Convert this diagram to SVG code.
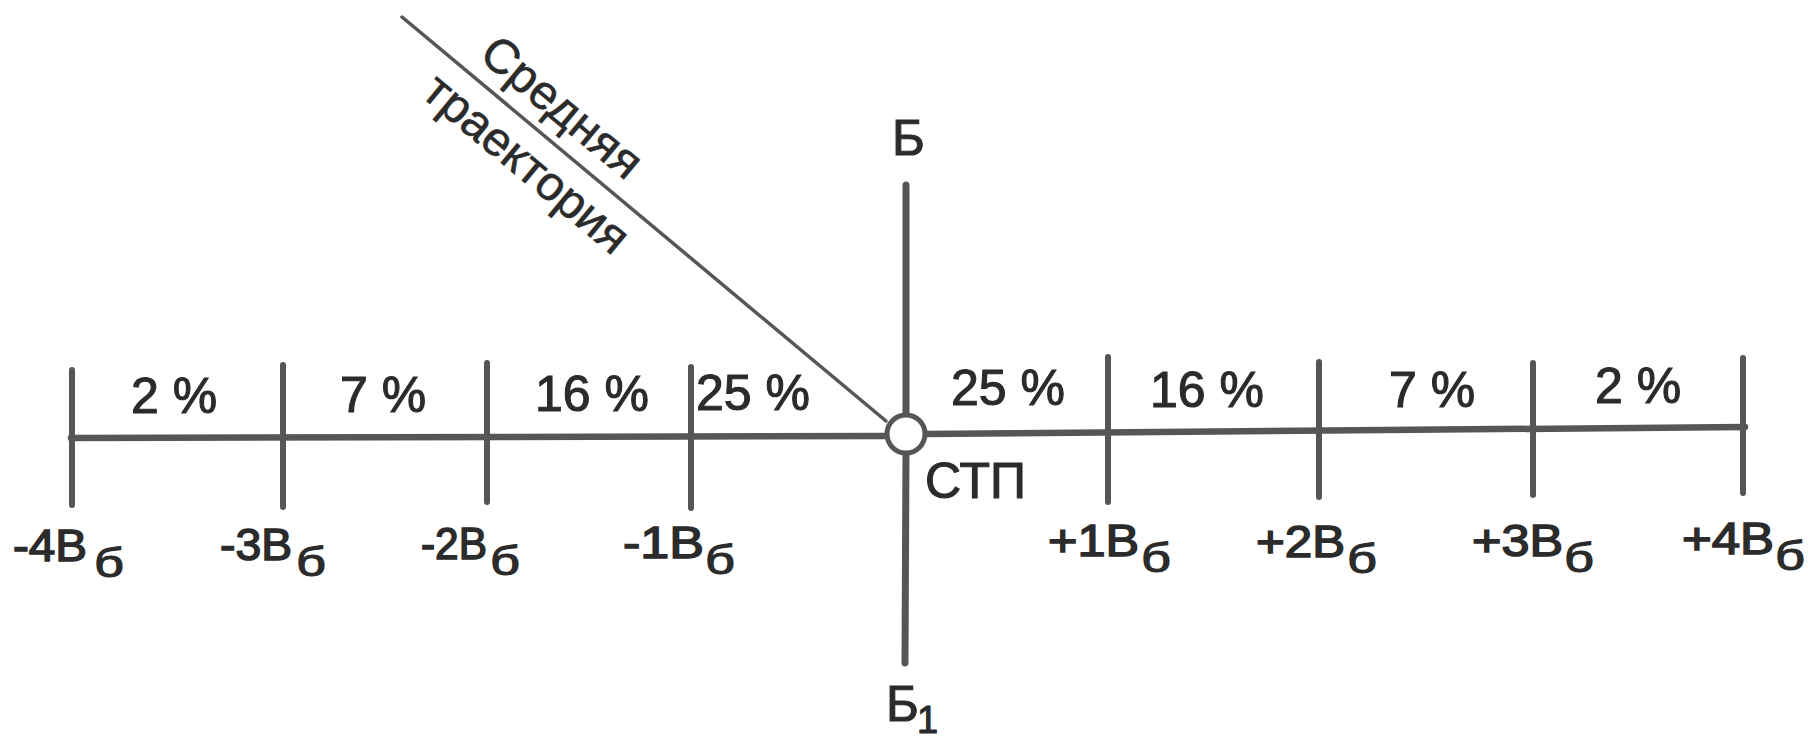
<svg xmlns="http://www.w3.org/2000/svg" width="1808" height="739" viewBox="0 0 1808 739">
<style>
.ln{stroke:#565656;stroke-linecap:round;fill:none}
.axis{stroke-width:6.5}
.tick{stroke-width:6}
.vert{stroke-width:7}
.diag{stroke-width:3.5}
.t{font-family:"Liberation Sans",Arial,sans-serif;fill:#2b2b2b;stroke:#2b2b2b;stroke-width:1.1}
.thin{stroke-width:0.6}
.pct{font-size:50px}
.lbl{font-size:44px;stroke-width:1.5}
.sub{font-size:40px}
.big{font-size:50px}
.dt{font-size:48px}
.one{font-size:38px}
</style>
<rect width="1808" height="739" fill="#ffffff"/>
<g id="connectors">
<line class="ln diag" x1="402" y1="17" x2="886" y2="421"/>
<line class="ln axis" x1="71" y1="438" x2="888" y2="436"/>
<line class="ln axis" x1="924" y1="434" x2="1745" y2="427"/>
<line class="ln vert" x1="906" y1="185" x2="906" y2="420"/>
<line class="ln vert" x1="906" y1="450" x2="905" y2="663"/>
</g>
<g id="ticks">
<line class="ln tick" x1="72" y1="370" x2="72" y2="505"/>
<line class="ln tick" x1="283" y1="365" x2="283" y2="507"/>
<line class="ln tick" x1="487" y1="363" x2="487" y2="502"/>
<line class="ln tick" x1="691" y1="367" x2="691" y2="508"/>
<line class="ln tick" x1="1108" y1="357" x2="1108" y2="502"/>
<line class="ln tick" x1="1319" y1="362" x2="1319" y2="497"/>
<line class="ln tick" x1="1533" y1="363" x2="1533" y2="495"/>
<line class="ln tick" x1="1743" y1="358" x2="1743" y2="493"/>
</g>
<g id="stp">
<circle cx="906" cy="434" r="19" fill="#ffffff" stroke="#565656" stroke-width="5"/>
<text class="t big" x="925" y="498">СТП</text>
</g>
<g id="b-top"><text class="t big" x="892" y="155">Б</text></g>
<g id="b-bottom"><text class="t big" x="886" y="721">Б</text><text class="t one" x="917" y="733">1</text></g>
<g id="trajectory">
<g transform="translate(402,17) rotate(39.75)">
<text class="t dt thin" x="84" y="-17">Средняя</text>
<text class="t dt thin" x="64" y="49">траектория</text>
</g>
</g>
<g id="percents">
<text class="t pct" x="131" y="413">2 %</text>
<text class="t pct" x="340" y="412">7 %</text>
<text class="t pct" x="535" y="411">16 %</text>
<text class="t pct" x="696" y="410">25 %</text>
<text class="t pct" x="951" y="405">25 %</text>
<text class="t pct" x="1150" y="407">16 %</text>
<text class="t pct" x="1389" y="407">7 %</text>
<text class="t pct" x="1595" y="403">2 %</text>
</g>
<g id="labels">
<g id="m4"><text class="t lbl" x="13" y="561" textLength="74" lengthAdjust="spacingAndGlyphs">-4В</text><text class="t sub" x="94" y="577" textLength="30" lengthAdjust="spacingAndGlyphs">б</text></g>
<g id="m3"><text class="t lbl" x="220" y="560" textLength="72" lengthAdjust="spacingAndGlyphs">-3В</text><text class="t sub" x="296" y="576" textLength="30" lengthAdjust="spacingAndGlyphs">б</text></g>
<g id="m2"><text class="t lbl" x="421" y="559" textLength="66" lengthAdjust="spacingAndGlyphs">-2В</text><text class="t sub" x="490" y="575" textLength="30" lengthAdjust="spacingAndGlyphs">б</text></g>
<g id="m1"><text class="t lbl" x="623" y="558" textLength="81" lengthAdjust="spacingAndGlyphs">-1В</text><text class="t sub" x="705" y="574" textLength="30" lengthAdjust="spacingAndGlyphs">б</text></g>
<g id="p1"><text class="t lbl" x="1048" y="556" textLength="91" lengthAdjust="spacingAndGlyphs">+1В</text><text class="t sub" x="1141" y="572" textLength="30" lengthAdjust="spacingAndGlyphs">б</text></g>
<g id="p2"><text class="t lbl" x="1256" y="557" textLength="89" lengthAdjust="spacingAndGlyphs">+2В</text><text class="t sub" x="1347" y="573" textLength="30" lengthAdjust="spacingAndGlyphs">б</text></g>
<g id="p3"><text class="t lbl" x="1472" y="556" textLength="91" lengthAdjust="spacingAndGlyphs">+3В</text><text class="t sub" x="1564" y="572" textLength="30" lengthAdjust="spacingAndGlyphs">б</text></g>
<g id="p4"><text class="t lbl" x="1682" y="554" textLength="92" lengthAdjust="spacingAndGlyphs">+4В</text><text class="t sub" x="1775" y="570" textLength="30" lengthAdjust="spacingAndGlyphs">б</text></g>
</g>
</svg>
